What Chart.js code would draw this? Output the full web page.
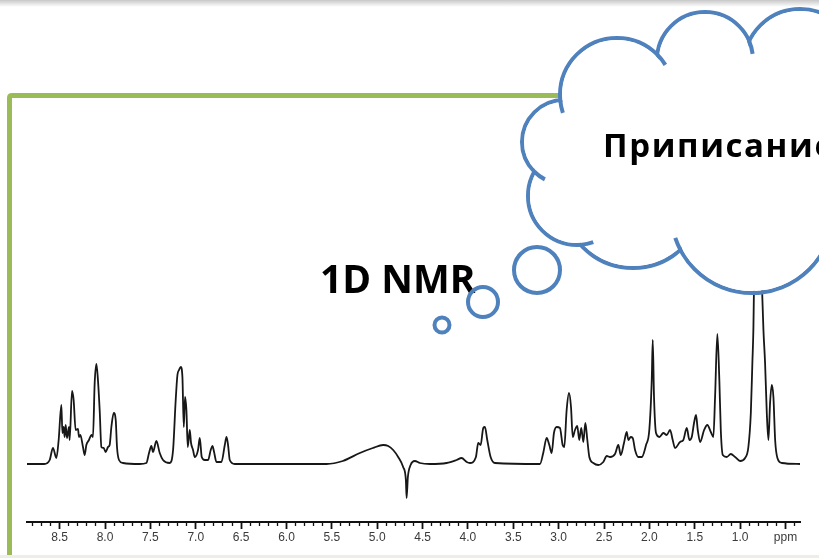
<!DOCTYPE html>
<html>
<head>
<meta charset="utf-8">
<script src="https://cdn.jsdelivr.net/npm/chart.js@4.4.1/dist/chart.umd.min.js"></script>
<style>
  html, body { margin: 0; padding: 0; background: #fff; }
  #page { position: relative; width: 819px; height: 558px; overflow: hidden; background: #fff; }
  #shadow { position: absolute; left: 0; top: 0; width: 819px; height: 7px;
    background: linear-gradient(#c8c8c8, rgba(255,255,255,0)); }
  #spectrum { position: absolute; left: 0; top: 0; }
  #overlay { position: absolute; left: 0; top: 0; }
</style>
</head>
<body>
<div id="page">
  <div id="shadow"></div>
  <canvas id="spectrum" width="819" height="558"></canvas>
  <svg id="overlay" width="819" height="558" xmlns="http://www.w3.org/2000/svg"></svg>
</div>
<script>
// chemical shift (ppm) and relative intensity
const shifts = [
  8.86, 8.67, 8.61, 8.574, 8.536, 8.511, 8.481, 8.470, 8.456, 8.445, 8.434, 8.419, 8.397, 8.390,
  8.364, 8.346, 8.324, 8.298, 8.287, 8.272, 8.243, 8.224, 8.206, 8.177, 8.150, 8.133, 8.114,
  8.095, 8.078, 8.059, 8.040, 8.015, 7.993, 7.967, 7.949, 7.930, 7.904, 7.882, 7.868, 7.846,
  7.802, 7.618, 7.544, 7.515, 7.489, 7.471, 7.434, 7.397, 7.361, 7.287, 7.250, 7.221, 7.202,
  7.184, 7.165, 7.147, 7.132, 7.118, 7.103, 7.088, 7.066, 7.052, 7.030, 7.011, 6.975, 6.956,
  6.934, 6.901, 6.864, 6.835, 6.816, 6.798, 6.772, 6.717, 6.680, 6.661, 6.644, 6.625, 6.570,
  6.074, 5.559, 5.379, 5.191, 5.048, 4.934, 4.879, 4.824, 4.769, 4.714, 4.684, 4.676, 4.662,
  4.632, 4.585, 4.530, 4.419, 4.235, 4.125, 4.070, 4.014, 3.978, 3.912, 3.887, 3.860, 3.831,
  3.813, 3.787, 3.750, 3.702, 3.206, 3.170, 3.132, 3.103, 3.077, 3.052, 3.022, 2.986, 2.956,
  2.938, 2.912, 2.886, 2.864, 2.845, 2.820, 2.795, 2.773, 2.751, 2.728, 2.706, 2.684, 2.662,
  2.618, 2.563, 2.508, 2.470, 2.434, 2.379, 2.342, 2.316, 2.280, 2.250, 2.232, 2.206, 2.184,
  2.158, 2.122, 2.084, 2.037, 2.001, 1.974, 1.963, 1.949, 1.927, 1.890, 1.846, 1.809, 1.772,
  1.743, 1.717, 1.662, 1.626, 1.588, 1.559, 1.533, 1.508, 1.486, 1.467, 1.441, 1.397, 1.361,
  1.323, 1.295, 1.276, 1.251, 1.229, 1.213, 1.191, 1.147, 1.103, 1.055, 1.000, 0.945, 0.909,
  0.882, 0.865, 0.854, 0.829, 0.802, 0.780, 0.758, 0.743, 0.725, 0.706, 0.688, 0.670, 0.651,
  0.633, 0.614, 0.589, 0.540, 0.34
];
const intensity = [
  0, 0, 4, 16, 6, 24, 59, 31, 37, 27, 39, 26, 37, 24,
  73, 64, 34, 35, 27, 29, 17, 9, 19, 24, 29, 27, 81,
  100, 84, 54, 17, 16, 12, 17, 19, 37, 51, 44, 17, 4,
  1, 0, 1, 11, 18, 12, 23, 11, 4, 1, 14, 64, 89,
  94, 97, 87, 37, 67, 54, 17, 34, 21, 14, 7, 14, 26,
  7, 4, 4, 14, 18, 12, 2, 2, 19, 27, 19, 4, 0,
  0, 0, 3, 11, 16, 19, 18, 14, 7, -3, -16, -34, -13,
  -1, 3, 1, 0, 1, 4, 6, 2, 1, 7, 21, 19, 36,
  37, 24, 7, 1, 0, 11, 26, 19, 11, 31, 37, 36, 19,
  17, 54, 71, 57, 27, 34, 38, 24, 36, 22, 41, 24, 7,
  1, -1, 2, 8, 7, 10, 19, 9, 21, 32, 24, 27, 26,
  14, 7, 7, 19, 34, 84, 124, 67, 31, 27, 31, 29, 34,
  24, 16, 22, 24, 36, 24, 27, 41, 49, 34, 22, 34, 39,
  32, 27, 67, 130, 84, 34, 9, 7, 10, 7, 3, 6, 17,
  51, 101, 134, 284, 174, 254, 174, 134, 101, 51, 24, 61, 79,
  67, 24, 6, 1, 0
];

// axis
const axisMin = 0.34;
const axisMax = 8.86;
const tickValues = [8.5, 8.0, 7.5, 7.0, 6.5, 6.0, 5.5, 5.0, 4.5, 4.0, 3.5, 3.0, 2.5, 2.0, 1.5, 1.0, 0.5];
const tickLabels = ['8.5', '8.0', '7.5', '7.0', '6.5', '6.0', '5.5', '5.0', '4.5', '4.0', '3.5', '3.0', '2.5', '2.0', '1.5', '1.0', 'ppm'];
const intensityMin = -58;
const intensityMax = 364;

function majorIndex(v) {
    const n = Math.round(v * 10);
    return tickValues.findIndex(t => Math.round(t * 10) === n);
}

const ctx = document.getElementById('spectrum').getContext('2d');
new Chart(ctx, {
    type: 'line',
    data: {
        datasets: [{
            data: shifts.map((p, i) => ({ x: p, y: intensity[i] })),
            borderColor: '#171717',
            borderWidth: 1.8,
            pointRadius: 0,
            fill: false,
            cubicInterpolationMode: 'monotone'
        }]
    },
    options: {
        responsive: false,
        animation: false,
        events: [],
        layout: { padding: { left: 27, right: 19, top: 100, bottom: 0 } },
        plugins: { legend: { display: false }, tooltip: { enabled: false } },
        scales: {
            x: {
                type: 'linear',
                reverse: true,
                min: axisMin,
                max: axisMax,
                afterFit: (scale) => { scale.height = 36; },
                border: { display: true, color: '#111', width: 2 },
                grid: {
                    display: true,
                    drawOnChartArea: false,
                    drawTicks: true,
                    tickLength: 7,
                    tickColor: '#111',
                    tickWidth: (c) => (c.tick && majorIndex(c.tick.value) >= 0 ? 1.8 : 1.3),
                    tickBorderDash: (c) => (c.tick && majorIndex(c.tick.value) >= 0 ? [] : [3, 20])
                },
                ticks: {
                    stepSize: 0.1,
                    autoSkip: false,
                    includeBounds: false,
                    maxRotation: 0,
                    padding: 1,
                    color: '#3a3a3a',
                    font: { family: "'Liberation Sans Narrow', 'Liberation Sans', sans-serif", size: 12 },
                    callback: (v) => {
                        const i = majorIndex(v);
                        return i >= 0 ? tickLabels[i] : '';
                    }
                }
            },
            y: { display: false, min: intensityMin, max: intensityMax }
        }
    }
});

// slide decoration: green frame, thought cloud, titles
const svgNS = 'http://www.w3.org/2000/svg';
const svg = document.getElementById('overlay');
function add(tag, attrs, text) {
    const el = document.createElementNS(svgNS, tag);
    Object.entries(attrs).forEach(([k, v]) => el.setAttribute(k, v));
    if (text) el.textContent = text;
    svg.appendChild(el);
    return el;
}
const blue = '#4f81bd';

add('path', { d: 'M9.5 560 V98 Q9.5 95.5 12 95.5 H800', fill: 'none', stroke: '#9bbb59', 'stroke-width': 5 });
add('line', { x1: 0, y1: 556.5, x2: 819, y2: 556.5, stroke: '#efeee6', 'stroke-width': 3 });

add('text', { x: 320, y: 293, 'font-family': 'Open Sans, Liberation Sans, sans-serif', 'font-weight': 'bold', 'font-size': 39, fill: '#000' }, '1D NMR');

// cloud lobes [cx, cy, r]
const lobes = [
    [617, 95, 57], [705, 60, 48], [800, 65, 56], [860, 150, 55],
    [752, 212, 81], [633, 197, 71], [577, 196, 49], [564, 142, 42]
];
lobes.forEach(([cx, cy, r]) => add('circle', { cx, cy, r, fill: 'none', stroke: blue, 'stroke-width': 4 }));
lobes.forEach(([cx, cy, r]) => add('circle', { cx, cy, r: r - 2, fill: '#fff' }));
add('rect', { x: 600, y: 70, width: 219, height: 160, fill: '#fff' });

// little hooks where lobes meet
const centre = [690, 160];
function inside(p, c) { return Math.hypot(p[0] - c[0], p[1] - c[1]) < c[2]; }
[[0, 1], [1, 2], [0, 7], [7, 6], [6, 5], [4, 5]].forEach(([a, b]) => {
    const A = lobes[a], B = lobes[b];
    const dx = B[0] - A[0], dy = B[1] - A[1], d = Math.hypot(dx, dy);
    const l = (A[2] * A[2] - B[2] * B[2] + d * d) / (2 * d);
    const h = Math.sqrt(Math.max(0, A[2] * A[2] - l * l));
    const mx = A[0] + dx * l / d, my = A[1] + dy * l / d;
    const cands = [[mx - dy * h / d, my + dx * h / d], [mx + dy * h / d, my - dx * h / d]];
    cands.sort((p, q) => Math.hypot(q[0] - centre[0], q[1] - centre[1]) - Math.hypot(p[0] - centre[0], p[1] - centre[1]));
    const P = cands[0];
    const th = Math.atan2(P[1] - A[1], P[0] - A[0]);
    const dl = 13 / A[2];
    let th2 = th + dl;
    if (!inside([A[0] + A[2] * Math.cos(th2), A[1] + A[2] * Math.sin(th2)], B)) th2 = th - dl;
    const x2 = A[0] + A[2] * Math.cos(th2), y2 = A[1] + A[2] * Math.sin(th2);
    add('path', { d: `M${P[0]} ${P[1]} A${A[2]} ${A[2]} 0 0 ${th2 > th ? 1 : 0} ${x2} ${y2}`, fill: 'none', stroke: blue, 'stroke-width': 4 });
});

add('text', { x: 603, y: 157, 'font-family': 'Open Sans, Liberation Sans, sans-serif', 'font-weight': 'bold', 'font-size': 33, 'letter-spacing': 1.6, fill: '#000' }, 'Приписание');

// thought bubbles
[[442, 325, 7.5], [483, 302, 15], [537, 270, 23]].forEach(([cx, cy, r]) =>
    add('circle', { cx, cy, r, fill: 'none', stroke: blue, 'stroke-width': 4 }));
</script>
</body>
</html>
